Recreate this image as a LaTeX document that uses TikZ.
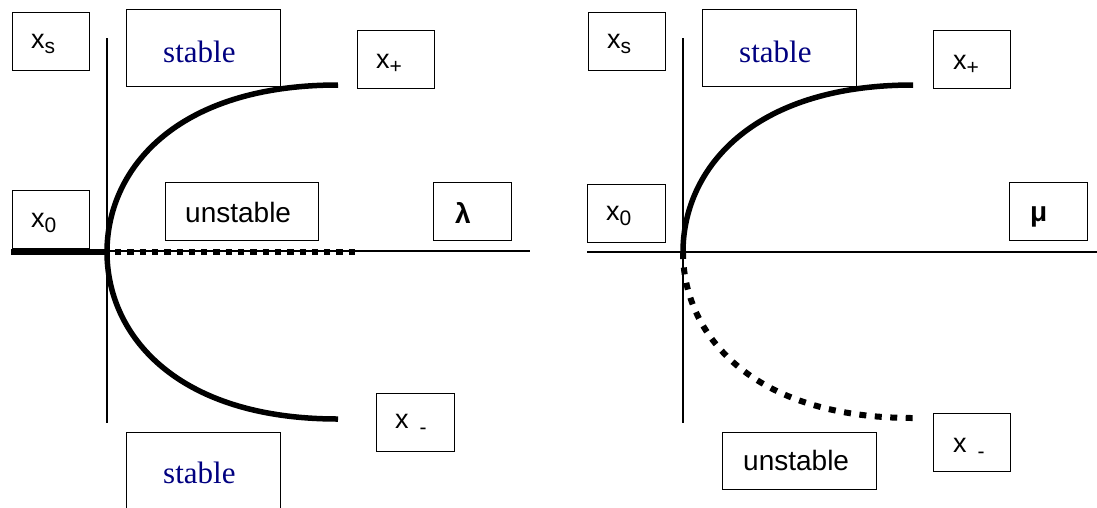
\documentclass[tikz,border=0pt]{standalone}
\usepackage{fontspec}
\setmainfont{Liberation Sans}
\newfontfamily\timesf{Liberation Serif}
\definecolor{navyt}{RGB}{0,0,128}
\newcommand\xsub[2][5pt]{x\raisebox{-#1}{\fontsize{21}{23}\selectfont #2}}
\tikzset{
  box/.style={draw, line width=1.2pt, inner sep=0pt, anchor=north west},
  lbl/.style={inner sep=0pt, anchor=base west, font=\fontsize{27}{29}\selectfont},
  big/.style={inner sep=0pt, anchor=base west, font=\fontsize{28}{30}\selectfont},
  stab/.style={inner sep=0pt, anchor=base west, font=\timesf\fontsize{31}{33}\selectfont, text=navyt},
  axisline/.style={line width=1.2pt},
  branch/.style={line width=5.5pt},
  dotbranch/.style={line width=6pt, dash pattern=on 6.3pt off 6pt},
}
\begin{document}
\begin{tikzpicture}[x=1pt,y=-1pt]
\useasboundingbox (0,0) rectangle (1097,507);

% ---------- left panel ----------
\coordinate (OL) at (107,252);
\coordinate (AxLtop) at (107,38);
\coordinate (AxLbot) at (107,423);
\coordinate (AxLleft) at (11,251);
\coordinate (AxLright) at (530,251);
\coordinate (ThickL) at (11,252);
\coordinate (DotEndL) at (355,252);
\coordinate (XpL) at (338,85);
\coordinate (XmL) at (338,419);

\draw[axisline] (AxLtop) -- (AxLbot);
\draw[axisline] (AxLleft) -- (AxLright);
\draw[branch] (ThickL) -- (OL);
\draw[dotbranch, dash phase=4.3pt] (OL) -- (DotEndL);
\draw[branch] (OL) .. controls (107,170) and (175,85) .. (XpL);
\draw[branch] (OL) .. controls (107,334) and (175,419) .. (XmL);

\node[box, minimum width=77.5, minimum height=58] (xsLbox) at (11.5,12) {};
\node[lbl] (xsL) at (31,48) {\xsub{s}};
\node[box, minimum width=154, minimum height=77] (stTbox) at (126,9) {};
\node[stab] (stT) at (163,62) {stable};
\node[box, minimum width=77, minimum height=58] (xpLbox) at (357,30) {};
\node[lbl] (xpL) at (376,68) {\xsub{+}};
\node[box, minimum width=77.5, minimum height=58] (x0Lbox) at (11.5,190) {};
\node[lbl] (x0L) at (31,227) {\xsub{0}};
\node[box, minimum width=153, minimum height=58] (unLbox) at (165,182) {};
\node[big] (unL) at (185,222) {unstable};
\node[box, minimum width=78, minimum height=58] (lamBox) at (433,182) {};
\node[big, font=\bfseries\fontsize{28}{30}\selectfont] (lam) at (455,223) {λ};
\node[box, minimum width=78, minimum height=58] (xmLbox) at (376,393) {};
\node[lbl] (xmL) at (395,428) {x\hspace{11pt}\raisebox{-6pt}{\fontsize{21}{23}\selectfont -}};
\node[box, minimum width=154, minimum height=90] (stBbox) at (126,432) {};
\node[stab] (stB) at (163,483) {stable};

% ---------- right panel ----------
\coordinate (OR) at (683,252);
\coordinate (AxRtop) at (683,38);
\coordinate (AxRbot) at (683,423);
\coordinate (AxRleft) at (587,252);
\coordinate (AxRright) at (1097,252);
\coordinate (XpR) at (913,85);
\coordinate (XmR) at (913,418);

\draw[axisline] (AxRtop) -- (AxRbot);
\draw[axisline] (AxRleft) -- (AxRright);
\draw[branch] (OR) .. controls (683,170) and (751,85) .. (XpR);
\draw[dotbranch, dash pattern=on 7pt off 8.5pt] (OR) .. controls (683,334) and (751,418) .. (XmR);

\node[box, minimum width=77.5, minimum height=58] (xsRbox) at (587.5,12) {};
\node[lbl] (xsR) at (607,48) {\xsub{s}};
\node[box, minimum width=154, minimum height=77] (stRbox) at (702,9) {};
\node[stab] (stR) at (739,62) {stable};
\node[box, minimum width=77, minimum height=58] (xpRbox) at (933,30) {};
\node[lbl] (xpR) at (953,69) {\xsub{+}};
\node[box, minimum width=78, minimum height=58] (x0Rbox) at (587,184) {};
\node[lbl] (x0R) at (606,220) {\xsub{0}};
\node[box, minimum width=78, minimum height=58] (muBox) at (1009,182) {};
\node[big, font=\bfseries\fontsize{28}{30}\selectfont] (mu) at (1030,221) {μ};
\node[box, minimum width=154, minimum height=57] (unRbox) at (722,432) {};
\node[big] (unR) at (743,470) {unstable};
\node[box, minimum width=77, minimum height=58] (xmRbox) at (933,413) {};
\node[lbl] (xmR) at (953,452) {x\hspace{11pt}\raisebox{-6pt}{\fontsize{21}{23}\selectfont -}};
\end{tikzpicture}
\end{document}
